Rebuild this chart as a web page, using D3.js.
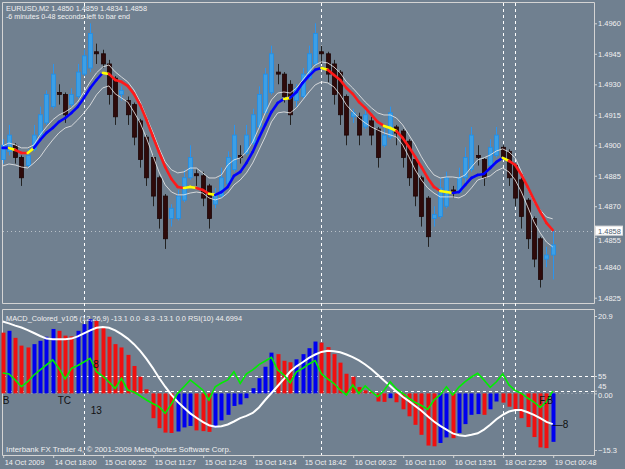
<!DOCTYPE html>
<html>
<head>
<meta charset="utf-8">
<script src="https://cdn.jsdelivr.net/npm/d3@7"></script>
<style>
body{margin:0;background:#708090;}
svg{display:block;font-family:"Liberation Sans",Arial,sans-serif;}
</style>
</head>
<body>
<svg id="chart" width="625" height="469"></svg>
<script>
// EURUSD M2 bars, oldest first
var open  = [1.4893,1.4897,1.4900,1.4894,1.4890,1.4898,1.4905,1.4911,1.4919,1.4926,1.4925,1.4920,1.4924,1.4935,1.4938,1.4946,1.4945,1.4940,1.4933,1.4925,1.4922,1.4920,1.4912,1.4904,1.4894,1.4884,1.4875,1.4864,1.4864,1.4873,1.4884,1.4886,1.4885,1.4880,1.4871,1.4875,1.4881,1.4888,1.4895,1.4896,1.4901,1.4909,1.4916,1.4926,1.4936,1.4935,1.4930,1.4922,1.4924,1.4933,1.4940,1.4946,1.4945,1.4940,1.4936,1.4924,1.4914,1.4914,1.4909,1.4912,1.4908,1.4900,1.4904,1.4909,1.4907,1.4902,1.4893,1.4884,1.4874,1.4864,1.4865,1.4870,1.4878,1.4877,1.4884,1.4888,1.4895,1.4893,1.4890,1.4895,1.4899,1.4897,1.4890,1.4883,1.4873,1.4864,1.4854,1.4844,1.4846];
var high  = [1.4903,1.4910,1.4901,1.4895,1.4898,1.4910,1.4919,1.4927,1.4940,1.4930,1.4926,1.4928,1.4940,1.4947,1.4960,1.4950,1.4947,1.4942,1.4934,1.4929,1.4924,1.4921,1.4913,1.4905,1.4895,1.4885,1.4876,1.4871,1.4878,1.4888,1.4900,1.4888,1.4887,1.4881,1.4879,1.4889,1.4897,1.4910,1.4900,1.4910,1.4918,1.4929,1.4938,1.4949,1.4940,1.4936,1.4932,1.4930,1.4938,1.4949,1.4960,1.4949,1.4946,1.4942,1.4937,1.4925,1.4918,1.4916,1.4918,1.4914,1.4909,1.4910,1.4919,1.4910,1.4908,1.4903,1.4894,1.4885,1.4875,1.4870,1.4884,1.4887,1.4880,1.4889,1.4899,1.4909,1.4900,1.4894,1.4903,1.4909,1.4900,1.4898,1.4891,1.4884,1.4874,1.4865,1.4855,1.4850,1.4858];
var low   = [1.4891,1.4895,1.4891,1.4880,1.4889,1.4897,1.4904,1.4910,1.4918,1.4920,1.4911,1.4919,1.4923,1.4934,1.4936,1.4940,1.4938,1.4920,1.4910,1.4922,1.4910,1.4900,1.4889,1.4880,1.4870,1.4859,1.4849,1.4860,1.4863,1.4872,1.4883,1.4880,1.4870,1.4859,1.4869,1.4874,1.4880,1.4887,1.4891,1.4895,1.4900,1.4908,1.4915,1.4925,1.4930,1.4921,1.4910,1.4919,1.4923,1.4932,1.4939,1.4940,1.4931,1.4920,1.4910,1.4900,1.4911,1.4900,1.4908,1.4900,1.4889,1.4899,1.4903,1.4900,1.4889,1.4880,1.4870,1.4860,1.4850,1.4860,1.4864,1.4869,1.4874,1.4876,1.4880,1.4887,1.4890,1.4880,1.4889,1.4894,1.4893,1.4880,1.4870,1.4859,1.4849,1.4840,1.4830,1.4840,1.4834];
var close = [1.4900,1.4905,1.4894,1.4884,1.4895,1.4905,1.4915,1.4925,1.4935,1.4925,1.4915,1.4925,1.4936,1.4944,1.4955,1.4945,1.4940,1.4925,1.4914,1.4927,1.4915,1.4904,1.4893,1.4884,1.4875,1.4864,1.4854,1.4869,1.4875,1.4884,1.4894,1.4885,1.4874,1.4864,1.4876,1.4884,1.4894,1.4905,1.4894,1.4905,1.4915,1.4925,1.4935,1.4945,1.4935,1.4924,1.4915,1.4928,1.4935,1.4945,1.4955,1.4945,1.4935,1.4925,1.4915,1.4905,1.4916,1.4905,1.4915,1.4905,1.4894,1.4905,1.4916,1.4906,1.4894,1.4884,1.4875,1.4865,1.4855,1.4866,1.4879,1.4884,1.4877,1.4884,1.4894,1.4905,1.4894,1.4884,1.4899,1.4905,1.4894,1.4884,1.4874,1.4865,1.4854,1.4844,1.4834,1.4846,1.4851];

// coloured moving average and its envelope
var maLine = [1.48987,1.48987,1.48977,1.48962,1.48962,1.48987,1.49026,1.49061,1.49085,1.49115,1.49134,1.49159,1.49189,1.49233,1.49282,1.49321,1.49356,1.49351,1.49321,1.49312,1.49292,1.49253,1.49198,1.49125,1.49046,1.48967,1.48893,1.48834,1.48795,1.48790,1.48795,1.48790,1.48780,1.48761,1.48756,1.48770,1.48795,1.48849,1.48869,1.48913,1.48967,1.49036,1.49100,1.49164,1.49208,1.49228,1.49233,1.49262,1.49307,1.49341,1.49371,1.49380,1.49371,1.49346,1.49321,1.49282,1.49253,1.49213,1.49184,1.49149,1.49115,1.49095,1.49085,1.49070,1.49036,1.48992,1.48943,1.48893,1.48839,1.48795,1.48775,1.48770,1.48765,1.48770,1.48805,1.48839,1.48854,1.48859,1.48888,1.48918,1.48938,1.48923,1.48903,1.48854,1.48795,1.48731,1.48672,1.48618,1.48583];
var maTrend = "byrry" + "bbbbbbbbbbb" + "y" + "rrrrrrrrrrrr" + "yyrry" + "bbbbbbbbbbb" + "y" + "bbbbb" + "y" + "rrrrrrrrr" + "yy" + "rrrrrrr" + "yy" + "bbbbbbbb" + "y" + "rrrrrrr";
var bandUpper = [1.48997,1.49011,1.49002,1.48987,1.48987,1.49002,1.49051,1.49090,1.49125,1.49149,1.49164,1.49184,1.49213,1.49262,1.49312,1.49356,1.49385,1.49395,1.49361,1.49336,1.49312,1.49272,1.49213,1.49139,1.49066,1.48987,1.48918,1.48879,1.48864,1.48869,1.48888,1.48888,1.48864,1.48839,1.48839,1.48854,1.48903,1.48928,1.48938,1.48967,1.49016,1.49085,1.49159,1.49223,1.49257,1.49262,1.49257,1.49282,1.49321,1.49361,1.49395,1.49410,1.49405,1.49385,1.49356,1.49312,1.49282,1.49248,1.49213,1.49184,1.49159,1.49149,1.49149,1.49134,1.49100,1.49051,1.49002,1.48943,1.48893,1.48854,1.48839,1.48844,1.48844,1.48839,1.48854,1.48893,1.48928,1.48938,1.48952,1.48972,1.48982,1.48967,1.48938,1.48869,1.48790,1.48721,1.48682,1.48647,1.48638];
var bandLower = [1.48898,1.48908,1.48903,1.48893,1.48888,1.48913,1.48943,1.48987,1.49026,1.49061,1.49085,1.49095,1.49125,1.49159,1.49198,1.49248,1.49282,1.49292,1.49253,1.49233,1.49213,1.49164,1.49110,1.49036,1.48952,1.48869,1.48805,1.48770,1.48756,1.48756,1.48765,1.48770,1.48765,1.48741,1.48731,1.48741,1.48765,1.48805,1.48829,1.48864,1.48913,1.48977,1.49041,1.49115,1.49159,1.49164,1.49159,1.49184,1.49223,1.49262,1.49297,1.49312,1.49307,1.49287,1.49248,1.49198,1.49164,1.49134,1.49110,1.49090,1.49075,1.49061,1.49051,1.49041,1.49002,1.48943,1.48879,1.48829,1.48790,1.48765,1.48746,1.48746,1.48746,1.48741,1.48756,1.48790,1.48829,1.48839,1.48849,1.48874,1.48888,1.48869,1.48829,1.48770,1.48697,1.48623,1.48569,1.48524,1.48500];

// MACD (12,26,9) histogram, signal, RSI(10)
var macd = [16.4,16.9,15.0,12.9,12.4,13.3,14.2,15.3,17.4,16.9,15.6,15.4,16.9,18.7,20.0,19.6,17.9,15.3,13.3,12.4,10.4,7.4,4.5,1.1,-6.7,-9.4,-10.6,-10.7,-10.3,-9.2,-8.8,-10.0,-10.2,-10.4,-9.2,-7.3,-5.8,-3.4,-3.0,-1.3,1.4,4.1,7.2,11.0,10.6,8.8,8.4,9.2,10.6,12.2,14.0,13.7,12.5,10.6,8.3,5.3,4.5,1.7,0.8,0.4,-2.2,-2.3,-1.3,-2.4,-4.3,-6.2,-8.5,-11.2,-14.1,-14.3,-13.4,-11.9,-12.1,-10.7,-8.3,-5.8,-5.6,-5.8,-4.3,-2.2,-2.5,-3.6,-4.4,-6.7,-9.1,-11.8,-14.6,-14.8,-13.1];
var signal = [19.4,18.9,18.3,17.8,17.1,16.3,15.5,14.8,14.6,14.6,14.6,14.8,15.4,16.2,17.0,17.7,17.9,17.7,17.0,16.0,14.8,13.3,11.5,9.3,6.9,4.2,1.8,-0.4,-2.3,-3.9,-5.4,-6.6,-7.7,-8.6,-9.0,-8.9,-8.4,-7.6,-6.7,-6.1,-5.3,-3.8,-1.8,0.1,2.0,3.9,5.9,7.3,8.4,9.6,10.5,11.2,11.5,11.4,11.1,10.5,9.8,8.9,7.8,6.5,5.0,3.5,2.0,0.5,-0.9,-2.1,-3.4,-4.7,-6.2,-7.6,-8.8,-9.8,-10.8,-11.3,-11.5,-11.2,-10.8,-9.8,-8.5,-7.0,-5.8,-4.9,-4.5,-4.5,-5.1,-5.8,-6.7,-7.7,-8.3];
var rsi = [57.0,56.4,52.3,47.7,51.1,55.7,59.1,62.5,65.9,60.2,53.0,60.2,62.1,64.5,67.0,57.9,55.0,50.9,46.6,53.4,45.5,44.1,41.4,38.7,36.3,34.1,29.6,36.0,43.2,47.7,52.3,48.9,45.5,38.7,47.7,50.2,52.3,57.9,50.0,56.4,59.1,62.8,65.2,67.7,59.1,55.7,50.4,57.9,60.2,63.2,65.5,56.4,53.0,49.9,45.5,42.1,48.9,43.2,48.2,44.3,40.9,45.1,51.1,46.2,43.2,39.8,37.0,34.9,32.3,38.7,42.1,47.7,42.1,47.5,51.1,54.3,56.8,52.3,47.3,51.1,56.4,48.9,45.1,43.2,40.0,37.3,33.6,37.3,44.7];

var timeLabels = ["14 Oct 2009","14 Oct 18:00","15 Oct 06:52","15 Oct 11:27","15 Oct 12:43","15 Oct 14:14","15 Oct 18:42","16 Oct 06:32","16 Oct 11:00","16 Oct 13:51","18 Oct 22:55","19 Oct 00:48"];
var priceTicks = [1.4960,1.4945,1.4930,1.4915,1.4900,1.4885,1.4870,1.4855,1.4840,1.4825];
var macdTicks = [20.9,0,-15.3];
var rsiLevels = [55,45];
var separators = [13,51,80,82];
var quote = [1.4850,1.4859,1.4834,1.4858];
var notes = [{t:"B",i:0,v:-2.8},{t:"TC",i:8.8,v:-2.8},{t:"13",i:14.1,v:-5.5},{t:"8",i:14.5,v:6.9},{t:"F.B",i:85.8,v:-2.8},{t:"\u20148",i:88,v:-9.4}];

var W = 625, H = 469;
var fg = "#f0f0f0", frame = "#d4d4d4";
var svg = d3.select("#chart");
svg.append("rect").attr("width",W).attr("height",H).attr("fill","#708090");

var x = d3.scaleLinear().domain([0,88]).range([2.7,552.7]);
var yP = d3.scaleLinear().domain([1.4825,1.4960]).range([297.7,23.3]);
var yM = d3.scaleLinear().domain([-15.3,20.9]).range([450,316]);
var yR = d3.scaleLinear().domain([45,55]).range([390.7,376]);
var px = function(i){ return Math.round(x(i)); };
var idx = d3.range(open.length);

// frames
svg.append("path").attr("fill","none").attr("stroke",frame)
  .attr("d","M2.5,303.5V2.5H594.5V303.5H2.5M2.5,309.5H594.5V455.5H2.5Z");

// separators
svg.selectAll("line.sep").data(separators).join("line")
  .attr("x1",d=>px(d)+0.5).attr("x2",d=>px(d)+0.5)
  .attr("y1",3).attr("y2",455)
  .attr("stroke","#ffffff").attr("stroke-dasharray","3,3").attr("stroke-width",1);

// bid line
svg.append("line").attr("x1",3).attr("x2",594).attr("y1",Math.round(yP(quote[3]))+0.5).attr("y2",Math.round(yP(quote[3]))+0.5)
  .attr("stroke","#b8c0c8").attr("stroke-dasharray","1,3");

// candles
var cg = svg.append("g");
cg.selectAll("line.wick").data(idx).join("line")
  .attr("x1",i=>px(i)+0.5).attr("x2",i=>px(i)+0.5)
  .attr("y1",i=>yP(high[i])).attr("y2",i=>yP(low[i]))
  .attr("stroke",i=>close[i]>open[i] ? "#2a95f0" : "#222222");
cg.selectAll("rect.body").data(idx).join("rect")
  .attr("x",i=>px(i)-1.5).attr("width",4)
  .attr("y",i=>yP(Math.max(open[i],close[i])))
  .attr("height",i=>Math.max(1.5,Math.abs(yP(open[i])-yP(close[i]))))
  .attr("fill",i=>close[i]>open[i] ? "#3c9fe6" : "#2e0a0a")
  .attr("stroke",i=>close[i]>open[i] ? "#1e8ee8" : "#1c0505")
  .attr("stroke-width",0.8);

// envelope
var line = d3.line().x((d,i)=>x(i)).y(d=>yP(d));
[bandUpper,bandLower].forEach(function(b){
  svg.append("path").attr("d",line(b)).attr("fill","none")
    .attr("stroke","#e6e6e6").attr("stroke-width",1).attr("opacity",0.85);
});

// coloured MA
var trendColor = {b:"#0000ff",r:"#ff1a1a",y:"#ffff00"};
svg.append("g").selectAll("line").data(d3.range(maLine.length-1)).join("line")
  .attr("x1",i=>x(i)).attr("x2",i=>x(i+1))
  .attr("y1",i=>yP(maLine[i])).attr("y2",i=>yP(maLine[i+1]))
  .attr("stroke",i=>trendColor[maTrend[i]]).attr("stroke-width",2.6).attr("stroke-linecap","round");

// price axis
var pa = svg.append("g").attr("transform","translate(594,0)")
  .call(d3.axisRight(yP).tickValues(priceTicks).tickFormat(d3.format(".4f")).tickSize(3).tickPadding(1));
pa.select(".domain").remove();
pa.selectAll("line").attr("stroke",frame);
pa.selectAll("text").attr("fill",fg).attr("font-size",7.5).attr("font-family","Liberation Sans, Arial, sans-serif")
  .attr("dy",d=>d===1.4855?"0.75em":"0.32em");

var qy = yP(quote[3]);
svg.append("rect").attr("x",595.5).attr("y",qy-4.5).attr("width",27).attr("height",9).attr("fill","#ffffff").attr("stroke","#e0e0e0");
svg.append("text").attr("x",598).attr("y",qy+3).attr("font-size",7.5).attr("fill","#506070").text(d3.format(".4f")(quote[3]));

// MACD panel
var zeroY = Math.round(yM(0))+0.5;
svg.append("line").attr("x1",3).attr("x2",594).attr("y1",zeroY).attr("y2",zeroY)
  .attr("stroke","#8e9aa6").attr("stroke-dasharray","2,2");
svg.selectAll("line.lvl").data(rsiLevels).join("line")
  .attr("x1",3).attr("x2",594).attr("y1",d=>Math.round(yR(d))+0.5).attr("y2",d=>Math.round(yR(d))+0.5)
  .attr("stroke","#ffffff").attr("stroke-dasharray","3,3");

svg.append("g").selectAll("rect").data(idx).join("rect")
  .attr("x",i=>px(i)-1.5).attr("width",4)
  .attr("y",i=>Math.min(yM(0),yM(macd[i])))
  .attr("height",i=>Math.abs(yM(macd[i])-yM(0)))
  .attr("fill",i=>(i>0 && macd[i]>macd[i-1]) ? "#0000f0" : "#f01010");

var lineM = d3.line().x((d,i)=>x(i)).y(d=>yM(d));
svg.append("path").attr("d",lineM(signal)).attr("fill","none").attr("stroke","#ffffff").attr("stroke-width",2);
var lineR = d3.line().x((d,i)=>x(i)).y(d=>yR(d));
svg.append("path").attr("d",lineR(rsi)).attr("fill","none").attr("stroke","#00ee00").attr("stroke-width",1.6);

var ma = svg.append("g").attr("transform","translate(594,0)")
  .call(d3.axisRight(yM).tickValues(macdTicks).tickFormat(d=>d===0?"0.00":d3.format(".1f")(d)).tickSize(3).tickPadding(1));
ma.select(".domain").remove();
ma.selectAll("line").attr("stroke",frame);
ma.selectAll("text").attr("fill",fg).attr("font-size",7.5).attr("font-family","Liberation Sans, Arial, sans-serif")
  .attr("dy",d=>d===0?"0.55em":"0.32em");
var ra = svg.append("g").attr("transform","translate(594,0)")
  .call(d3.axisRight(yR).tickValues(rsiLevels).tickSize(3).tickPadding(1));
ra.select(".domain").remove();
ra.selectAll("line").attr("stroke",frame);
ra.selectAll("text").attr("fill",fg).attr("font-size",7.5).attr("font-family","Liberation Sans, Arial, sans-serif")
  .attr("dy",d=>d===45?"-0.25em":"0.32em");

svg.selectAll("text.note").data(notes).join("text")
  .attr("x",d=>x(d.i)).attr("y",d=>yM(d.v))
  .attr("font-size",10).attr("fill","#111111").text(d=>d.t);

// time axis
var ta = svg.append("g").attr("transform","translate(0,455)")
  .call(d3.axisBottom(x).tickValues(d3.range(0,89,8)).tickFormat((d,i)=>timeLabels[i]).tickSize(3).tickPadding(2));
ta.select(".domain").remove();
ta.selectAll("line").attr("stroke",frame).attr("transform","translate(0.5,0)");
ta.selectAll("text").attr("fill",fg).attr("font-size",7.3).attr("text-anchor","start").attr("x",1.5)
  .attr("font-family","Liberation Sans, Arial, sans-serif");

// captions
function caption(t,y,len){
  svg.append("text").attr("x",6).attr("y",y).attr("font-size",7.5).attr("fill",fg)
    .attr("textLength",len).attr("lengthAdjust","spacingAndGlyphs").text(t);
}
caption("EURUSD,M2  " + quote.map(d3.format(".4f")).join(" "), 10.5, 141);
caption("-6 minutes 0-48 seconds-left to bar end", 19, 124);
caption("MACD_Colored_v105 (12,26,9) -13.1 0.0 -8.3 -13.1 0.0  RSI(10) 44.6994", 320.8, 236);
caption("Interbank FX Trader 4, \u00a9 2001-2009 MetaQuotes Software Corp.", 452, 225);
</script>
</body>
</html>
